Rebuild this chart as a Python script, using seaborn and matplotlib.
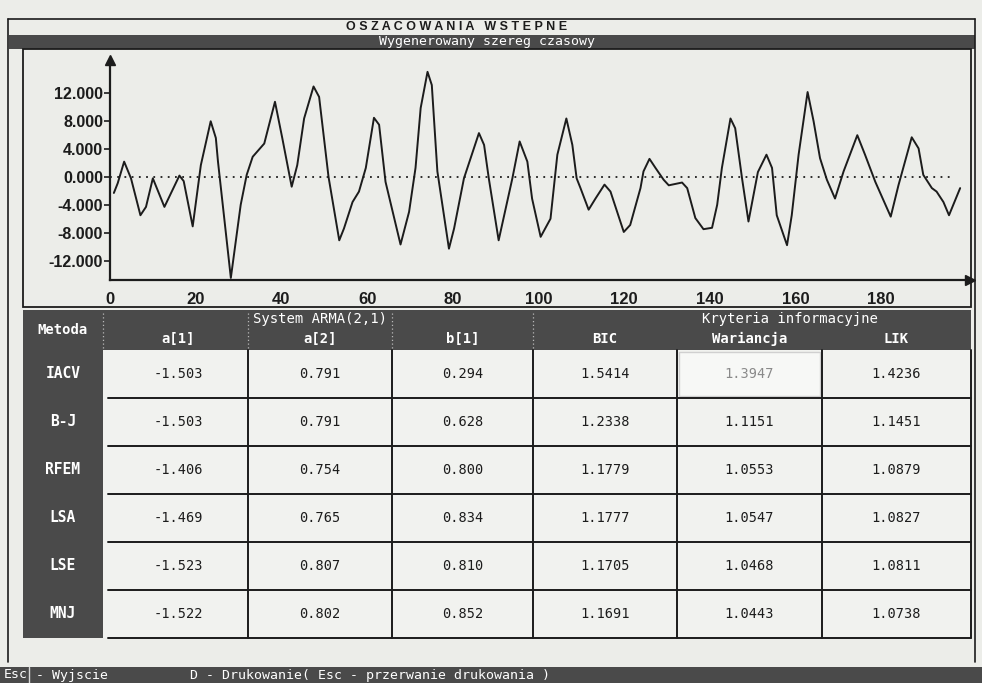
import matplotlib
matplotlib.use("Agg")
import matplotlib.pyplot as plt
from matplotlib.patches import Rectangle
import seaborn as sns
import pandas as pd

# ---- generated time series (time index, value) ----
series_t = [0.9, 1.8, 3.3, 4.9, 7.1, 8.4, 10.0, 12.7, 16.2, 17.2, 19.3, 21.2, 23.5, 24.7,
            25.2, 28.2, 30.5, 31.9, 33.3, 36.0, 38.5, 40.2, 42.4, 43.7, 45.3, 47.5,
            48.8, 51.0, 53.5, 54.6, 56.6, 58.1, 59.7, 61.6, 62.8, 64.3, 67.8, 69.8,
            71.3, 72.5, 74.1, 75.1, 76.4, 79.1, 80.3, 82.6, 86.1, 87.3, 88.4, 90.7,
            93.9, 95.6, 97.4, 98.5, 100.5, 102.8, 104.4, 106.5, 107.9, 108.9, 109.8,
            111.7, 113.3, 115.4, 116.8, 119.9, 121.4, 123.8, 124.5, 125.9, 127.3,
            129.2, 130.4, 133.5, 134.7, 136.6, 138.5, 140.5, 141.7, 142.8, 144.8,
            145.9, 147.5, 149.0, 151.2, 153.2, 154.5, 155.6, 158.0, 159.1, 160.7,
            162.8, 164.2, 165.7, 167.3, 169.2, 171.2, 174.4, 176.2, 178.6, 182.2,
            184.0, 187.1, 188.7, 189.8, 191.8, 192.9, 194.5, 195.8, 198.4]
series_v = [-2.3, -0.9, 2.2, -0.2, -5.5, -4.3, -0.2, -4.3, 0.2, -0.6, -7.1, 1.7, 8.0, 5.6,
            2.2, -14.5, -4.0, 0.3, 2.9, 4.8, 10.8, 5.6, -1.4, 1.7, 8.4, 13.0,
            11.5, 0.0, -9.1, -7.4, -3.6, -2.1, 1.3, 8.5, 7.5, -0.7, -9.7, -5.0,
            1.3, 9.9, 15.1, 13.2, 0.8, -10.3, -7.4, -0.2, 6.3, 4.6, -0.2, -9.1,
            -0.2, 5.1, 2.2, -3.1, -8.6, -6.0, 3.2, 8.4, 4.6, -0.2, -1.6,
            -4.7, -3.1, -1.1, -2.1, -7.9, -6.9, -1.6, 0.8, 2.6, 1.3,
            -0.4, -1.2, -0.8, -1.6, -5.9, -7.5, -7.3, -4.0, 1.3, 8.4,
            7.0, -0.2, -6.4, 0.7, 3.2, 1.3, -5.5, -9.8, -5.5, 3.2,
            12.2, 8.0, 2.7, -0.4, -3.1, 0.8, 6.0, 3.2, -0.7, -5.7,
            -1.2, 5.7, 4.1, 0.3, -1.6, -2.1, -3.6, -5.5, -1.6]

y_ticks = [-12, -8, -4, 0, 4, 8, 12]
x_ticks = [0, 20, 40, 60, 80, 100, 120, 140, 160, 180]

# ---- table of estimates ----
methods = ["IACV", "B-J", "RFEM", "LSA", "LSE", "MNJ"]
col_names = ["a[1]", "a[2]", "b[1]", "BIC", "Wariancja", "LIK"]
a1 = ["-1.503", "-1.503", "-1.406", "-1.469", "-1.523", "-1.522"]
a2 = ["0.791", "0.791", "0.754", "0.765", "0.807", "0.802"]
b1 = ["0.294", "0.628", "0.800", "0.834", "0.810", "0.852"]
bic = ["1.5414", "1.2338", "1.1779", "1.1777", "1.1705", "1.1691"]
wariancja = ["1.3947", "1.1151", "1.0553", "1.0547", "1.0468", "1.0443"]
lik = ["1.4236", "1.1451", "1.0879", "1.0827", "1.0811", "1.0738"]

title = "O S Z A C O W A N I A   W S T E P N E"
subtitle = "Wygenerowany szereg czasowy"
group_left = "System ARMA(2,1)"
group_right = "Kryteria informacyjne"
status_key = "Esc"
status_left = "- Wyjscie"
status_right = "D - Drukowanie( Esc - przerwanie drukowania )"

# ---- style ----
sns.set_theme(style="white")
PAGE = "#ecede9"
CELL = "#f1f2ef"
DARK = "#4a4a4a"
INK = "#1c1c1c"
MONO = ["DejaVu Sans Mono"]
plt.rcParams["font.family"] = ["Liberation Sans", "DejaVu Sans"]

W, H = 982, 683
fig = plt.figure(figsize=(W / 100, H / 100), dpi=100, facecolor=PAGE)

# full-figure canvas in pixel coordinates for the screen furniture
bg = fig.add_axes([0, 0, 1, 1])
bg.set_xlim(0, W)
bg.set_ylim(H, 0)
bg.axis("off")
bg.set_facecolor(PAGE)

# outer frame
bg.plot([8, 975], [19, 19], color=INK, lw=1.2)
bg.plot([8, 8], [19, 662], color=INK, lw=1.2)
bg.plot([975, 975], [19, 662], color=INK, lw=1.2)

bg.text(457, 27, title, ha="center", va="center", fontsize=9,
        fontweight="bold", color=INK)
bg.add_patch(Rectangle((9, 35), 966, 14, facecolor=DARK, edgecolor="none"))
bg.text(487, 42, subtitle, ha="center", va="center", fontsize=9.5,
        family=MONO, color="white")

# chart box
bg.add_patch(Rectangle((23, 49), 948, 258, facecolor="none", edgecolor=INK, lw=1.3))

# ---- table ----
col_x = [108, 248, 392, 533, 677, 822, 971]
row_y = [350, 398, 446, 494, 542, 590, 638]
head_top = 310

bg.add_patch(Rectangle((23, head_top), 948, row_y[0] - head_top,
                       facecolor=DARK, edgecolor="none"))
bg.add_patch(Rectangle((23, row_y[0]), 80, row_y[-1] - row_y[0],
                       facecolor=DARK, edgecolor="none"))
bg.add_patch(Rectangle((103, row_y[0]), 868, row_y[-1] - row_y[0],
                       facecolor=CELL, edgecolor="none"))

for xs in [103, 248, 392, 533]:
    bg.plot([xs, xs], [head_top + 3, row_y[0] - 2], color="#b8b8b8",
            lw=0.9, ls=(0, (1, 2)))

bg.text(63, 330, "Metoda", ha="center", va="center", fontsize=10,
        family=MONO, color="white", fontweight="bold")
bg.text(320, 319, group_left, ha="center", va="center", fontsize=10,
        family=MONO, color="white")
bg.text(790, 319, group_right, ha="center", va="center", fontsize=10,
        family=MONO, color="white")
for j, name in enumerate(col_names):
    cx = (col_x[j] + col_x[j + 1]) / 2
    bg.text(cx, 339, name, ha="center", va="center", fontsize=10,
            family=MONO, color="white", fontweight="bold")

columns = [a1, a2, b1, bic, wariancja, lik]
for i, m in enumerate(methods):
    cy = (row_y[i] + row_y[i + 1]) / 2
    bg.text(63, cy, m, ha="center", va="center", fontsize=10.5,
            family=MONO, color="white", fontweight="bold")
    for j, col in enumerate(columns):
        cx = (col_x[j] + col_x[j + 1]) / 2
        highlighted = (i == 0 and j == 4)
        if highlighted:
            bg.add_patch(Rectangle((col_x[j] + 2, row_y[i] + 2),
                                   col_x[j + 1] - col_x[j] - 4,
                                   row_y[i + 1] - row_y[i] - 4,
                                   facecolor="#f7f8f6", edgecolor="#d0d0d0", lw=1))
        bg.text(cx, cy, col[i], ha="center", va="center", fontsize=9.8,
                family=MONO, color="#8a8a8a" if highlighted else INK)

# grid lines of the data cells
for y in row_y[1:]:
    bg.plot([108, 971], [y, y], color=INK, lw=1.4)
for x in col_x[1:]:
    bg.plot([x, x], [row_y[0], row_y[-1]], color=INK, lw=1.4)

# status bar
bg.add_patch(Rectangle((0, 667), W, 16, facecolor=DARK, edgecolor="none"))
bg.plot([29, 29], [667, 683], color="#d8d8d8", lw=1)
bg.text(4, 675, status_key, ha="left", va="center", fontsize=9.5,
        family=MONO, color="white")
bg.text(36, 675, status_left, ha="left", va="center", fontsize=9.5,
        family=MONO, color="white")
bg.text(190, 675, status_right, ha="left", va="center", fontsize=9.5,
        family=MONO, color="white")

# ---- time-series chart ----
x0, x1, ytop, ybot = 110, 970, 60, 280
ax = fig.add_axes([x0 / W, 1 - ybot / H, (x1 - x0) / W, (ybot - ytop) / H])
ax.set_facecolor("none")
df = pd.DataFrame({"t": series_t, "v": series_v})
sns.lineplot(data=df, x="t", y="v", ax=ax, color=INK, lw=1.4,
             estimator=None, errorbar=None)
ax.axhline(0, xmin=0, xmax=197 / 200.7, color=INK, lw=1.3, ls=(0, (1, 3)))

ax.set_xlim(0, 200.7)
ax.set_ylim(-14.8, 16.8)
ax.set_xlabel("")
ax.set_ylabel("")
for side in ["top", "right"]:
    ax.spines[side].set_visible(False)
for side in ["left", "bottom"]:
    ax.spines[side].set_color(INK)
    ax.spines[side].set_linewidth(1.6)
ax.plot(1, 0, ">", color=INK, ms=7, transform=ax.transAxes, clip_on=False)
ax.plot(0, 1, "^", color=INK, ms=7, transform=ax.transAxes, clip_on=False)

ax.set_yticks(y_ticks)
ax.set_yticklabels([f"{v:.3f}" for v in y_ticks])
ax.set_xticks(x_ticks)
ax.set_xticklabels([str(v) for v in x_ticks])
ax.tick_params(axis="y", left=True, length=4, width=1.2, color=INK,
               pad=1, labelsize=11.5, labelcolor=INK)
ax.tick_params(axis="x", bottom=False, length=0, pad=9,
               labelsize=12, labelcolor=INK)
for lab in ax.get_xticklabels() + ax.get_yticklabels():
    lab.set_fontweight("bold")
ax.grid(False)

fig.savefig("out.png", dpi=100, facecolor=PAGE)
